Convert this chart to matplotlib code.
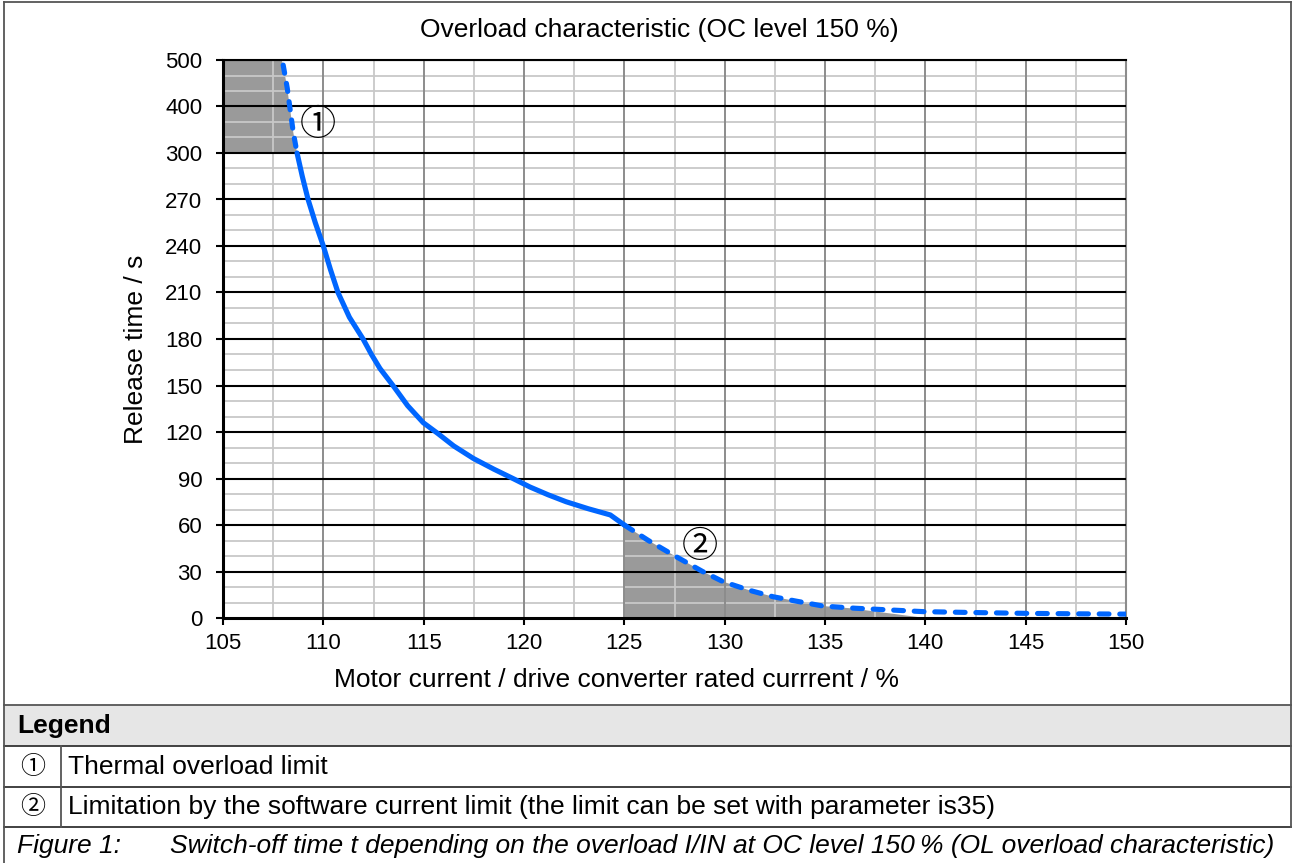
import numpy as np
import matplotlib
matplotlib.use("Agg")
import matplotlib.pyplot as plt
from matplotlib.lines import Line2D
from matplotlib.patches import Rectangle

plt.rcParams['font.family'] = ['Liberation Sans', 'DejaVu Sans', 'Noto Sans CJK SC']

# ---------------- data ----------------
title = "Overload characteristic (OC level 150 %)"
xlabel = "Motor current / drive converter rated currrent / %"
ylabel = "Release time / s"

x_ticks = [105, 110, 115, 120, 125, 130, 135, 140, 145, 150]
y_ticks = [0, 30, 60, 90, 120, 150, 180, 210, 240, 270, 300, 400, 500]

# thermal overload limit (dashed, above 300 s)
thermal_x = [108.0, 108.2, 108.35, 108.5, 108.69]
thermal_y = [489, 440, 392, 345, 300]

# main characteristic (solid)
main_x = [108.69, 108.95, 109.24, 109.6, 110.0, 110.35, 110.73, 111.3, 111.98,
          112.4, 112.82, 113.47, 114.2, 114.98, 115.71, 116.5, 117.47, 118.5,
          119.45, 120.3, 121.2, 122.1, 123.2, 124.3, 125.0]
main_y = [300, 285, 270, 255, 240, 225, 210, 194, 180,
          170, 161, 150, 137, 126, 119, 111, 103, 96,
          90, 84.5, 79.5, 75, 70.5, 66.5, 60]

# software current limit (dashed)
soft_x = [125.0, 126.2, 127.44, 128.9, 129.93, 131.2, 132.42, 133.6, 134.91,
          136.5, 138.23, 139.9, 142.5, 145.0, 147.5, 150.0]
soft_y = [60, 50, 40.6, 30, 23.4, 18, 13.7, 10.8, 7.7,
          6.3, 5.2, 4.1, 3.5, 3.0, 2.7, 2.5]

# shaded regions
shade1_x = [105.0, 107.92, 108.0, 108.2, 108.35, 108.5, 108.69, 105.0]
shade1_y = [500, 500, 489, 440, 392, 345, 300, 300]
shade2_x = [125.0, 126.2, 127.44, 128.9, 129.93, 131.2, 132.42, 133.6, 134.91,
            136.24, 140.0, 125.0]
shade2_y = [60, 50, 40.6, 30, 23.4, 18, 13.7, 10.8, 7.7, 6.3, 0, 0]

marker1 = ("①", 109.75, 360)
marker2 = ("②", 128.77, 46)

legend_title = "Legend"
legend_items = [("①", "Thermal overload limit"),
                ("②", "Limitation by the software current limit (the limit can be set with parameter is35)")]
caption_label = "Figure 1:"
caption_text = "Switch-off time t depending on the overload I/IN at OC level 150\u2009% (OL overload characteristic)"

# ---------------- figure ----------------
W, H = 1293, 863
fig = plt.figure(figsize=(W / 100, H / 100), dpi=100)

def fx(px):
    return px / W

def fy(py):
    return 1 - py / H

ax_l, ax_r, ax_t, ax_b = 223, 1126, 60, 618
ax = fig.add_axes([fx(ax_l), fy(ax_b), fx(ax_r - ax_l), (ax_b - ax_t) / H])

# piecewise-linear y scale: every tick equally spaced
yt = np.array(y_ticks, dtype=float)
yi = np.arange(len(yt), dtype=float)
yt_ext = np.concatenate([[yt[0] - 30], yt, [yt[-1] + 100]])
yi_ext = np.concatenate([[-1], yi, [yi[-1] + 1]])

def fwd(v):
    return np.interp(v, yt_ext, yi_ext)

def inv(i):
    return np.interp(i, yi_ext, yt_ext)

ax.set_yscale('function', functions=(fwd, inv))
ax.set_xlim(x_ticks[0], x_ticks[-1])
ax.set_ylim(y_ticks[0], y_ticks[-1])

# shading
ax.fill(shade1_x, shade1_y, color='#9a9a9a', lw=0, zorder=1)
ax.fill(shade2_x, shade2_y, color='#9a9a9a', lw=0, zorder=1)

# grid lines
minor_y = [inv(k + f) for k in range(len(yt) - 1) for f in (1 / 3, 2 / 3)]
for v in minor_y:
    ax.axhline(v, color='#c8c8c8', lw=1.3, zorder=2)
minor_x = [x + 2.5 for x in x_ticks[:-1]]
for v in minor_x:
    ax.axvline(v, color='#c8c8c8', lw=1.3, zorder=2)
for v in x_ticks[1:]:
    ax.axvline(v, color='#8c8c8c', lw=1.4, zorder=3)
for v in y_ticks[1:]:
    ax.axhline(v, color='black', lw=1.5, zorder=4)

# curves
blue = '#0066ff'
ax.plot(main_x, main_y, color=blue, lw=3.7, solid_capstyle='round',
        solid_joinstyle='round', zorder=6)
ax.plot(thermal_x, thermal_y, color=blue, lw=3.7, dash_capstyle='round',
        dashes=(1.6, 2.0), zorder=6)
ax.plot(soft_x, soft_y, color=blue, lw=3.7, dash_capstyle='round',
        dashes=(1.9, 2.1), zorder=6)

# markers
for s, mx, my in (marker1, marker2):
    ax.text(mx, my, s, fontsize=26, ha='center', va='center', zorder=7,
            family=['Noto Sans CJK SC', 'DejaVu Sans'])

# axes styling
ax.set_xticks(x_ticks)
ax.set_yticks(y_ticks)
ax.set_yticklabels([str(v) for v in y_ticks])
ax.minorticks_off()
ax.tick_params(axis='both', labelsize=16, length=5, width=1.5, color='black')
ax.tick_params(axis='y', pad=10)
ax.tick_params(axis='x', pad=6)
for side in ('left', 'bottom'):
    ax.spines[side].set_linewidth(2.2)
    ax.spines[side].set_color('black')
    ax.spines[side].set_zorder(8)
ax.spines['top'].set_linewidth(1.5)
ax.spines['top'].set_color('black')
ax.spines['right'].set_linewidth(1.5)
ax.spines['right'].set_color('#8c8c8c')

fig.text(fx(659), fy(30), title, fontsize=19, ha='center', va='center')
fig.text(fx(617), fy(687), xlabel, fontsize=19, ha='center', va='baseline')
fig.text(fx(136), fy(349), ylabel, fontsize=19, ha='center', va='center', rotation=90)

# ---------------- table frame ----------------
bc = '#555555'
def hline(py, x0=4, x1=1291, c=bc, lw=1.3):
    fig.add_artist(Line2D([fx(x0), fx(x1)], [fy(py), fy(py)], color=c, lw=lw,
                          transform=fig.transFigure))

def vline(px, y0, y1, c=bc, lw=1.3):
    fig.add_artist(Line2D([fx(px), fx(px)], [fy(y0), fy(y1)], color=c, lw=lw,
                          transform=fig.transFigure))

fig.add_artist(Rectangle((fx(4), fy(746)), fx(1291 - 4), (746 - 705) / H,
                         facecolor='#e6e6e6', edgecolor='none',
                         transform=fig.transFigure, zorder=0))
hline(2)
hline(705)
hline(746, c='#333333')
hline(787, c='#333333')
hline(827, c='#333333')
vline(4, 2, 863)
vline(1291, 2, 827)
vline(61, 746, 827)

fig.text(fx(17), fy(726), legend_title, fontsize=19, fontweight='bold', ha='left', va='center')
for k, (sym, txt) in enumerate(legend_items):
    yc = 767 + 40 * k
    fig.text(fx(33), fy(yc), sym, fontsize=18, ha='center', va='center',
             family=['Noto Sans CJK SC', 'DejaVu Sans'])
    fig.text(fx(68), fy(yc), txt, fontsize=19, ha='left', va='center')
fig.text(fx(17), fy(846), caption_label, fontsize=19, style='italic', ha='left', va='center')
fig.text(fx(170), fy(846), caption_text, fontsize=19, style='italic', ha='left', va='center')

fig.savefig('out.png', dpi=100)
